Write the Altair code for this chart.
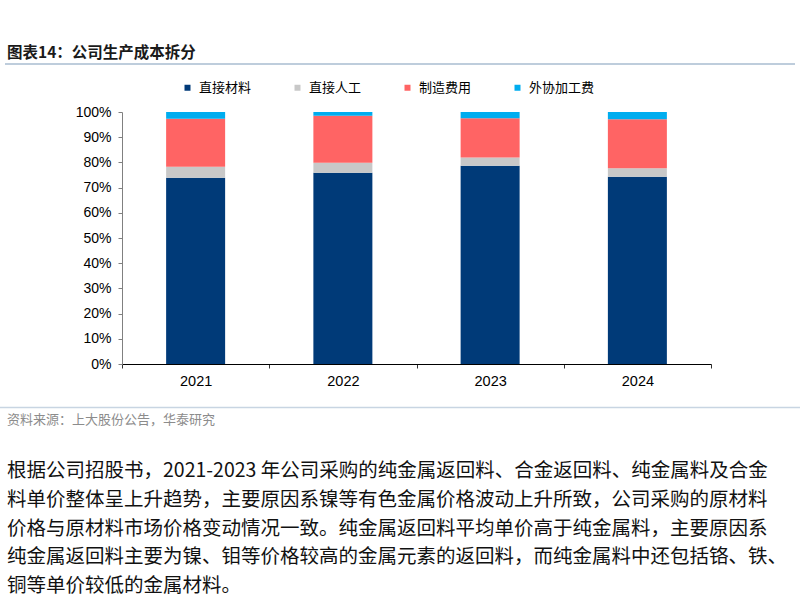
import altair as alt
import pandas as pd

# ---------------- data ----------------
years = ["2021", "2022", "2023", "2024"]
categories = ["直接材料", "直接人工", "制造费用", "外协加工费"]
direct_material = [73.9, 75.9, 78.7, 74.3]
direct_labor = [4.4, 4.0, 3.2, 3.4]
manufacturing = [19.0, 18.6, 15.6, 19.4]
outsourcing = [2.7, 1.5, 2.5, 2.9]
colors = ["#003a78", "#c8c8c8", "#ff6464", "#00adef"]
y_ticks = [0, 10, 20, 30, 40, 50, 60, 70, 80, 90, 100]

title_text = "图表14：公司生产成本拆分"
source_text = "资料来源：上大股份公告，华泰研究"
body_lines = [
    "根据公司招股书，2021-2023 年公司采购的纯金属返回料、合金返回料、纯金属料及合金",
    "料单价整体呈上升趋势，主要原因系镍等有色金属价格波动上升所致，公司采购的原材料",
    "价格与原材料市场价格变动情况一致。纯金属返回料平均单价高于纯金属料，主要原因系",
    "纯金属返回料主要为镍、钼等价格较高的金属元素的返回料，而纯金属料中还包括铬、铁、",
    "铜等单价较低的金属材料。",
]

series = [direct_material, direct_labor, manufacturing, outsourcing]
rows = []
for i, yr in enumerate(years):
    for j, cat in enumerate(categories):
        rows.append({"year": yr, "category": cat, "order": j, "value": series[j][i]})
df = pd.DataFrame(rows)

# ---------------- layout (plot area origin at page x=122, y=112) ----------------
X0, Y0 = 122, 112
W, H = 589, 252
CJK = "Noto Sans CJK SC"

bars = alt.Chart(df).mark_bar(size=59).encode(
    x=alt.X(
        "year:N", title=None, sort=years,
        scale=alt.Scale(paddingInner=0, paddingOuter=0),
        axis=alt.Axis(labelAngle=0, tickBand="extent", domainColor="#000000",
                      tickColor="#333333", tickSize=4, labelFontSize=14.5,
                      labelFont="Liberation Sans", labelColor="#000000",
                      labelPadding=6, grid=False),
    ),
    y=alt.Y(
        "value:Q", stack="zero", title=None,
        scale=alt.Scale(domain=[0, 100], nice=False),
        axis=alt.Axis(values=y_ticks, labelExpr="datum.value + '%'",
                      domainColor="#808080", tickColor="#808080", tickSize=4,
                      labelPadding=7, labelFontSize=14, labelFont="Liberation Sans",
                      labelColor="#000000", grid=False),
    ),
    color=alt.Color(
        "category:N", sort=categories,
        scale=alt.Scale(domain=categories, range=colors),
        legend=alt.Legend(title=None, orient="none", legendX=59, legendY=-31,
                          direction="horizontal", symbolType="square",
                          symbolSize=36, symbolStrokeWidth=0, labelFont=CJK,
                          labelFontSize=13, labelColor="#000000", labelOffset=5,
                          columnPadding=39, padding=0, offset=0),
    ),
    order=alt.Order("order:Q", sort="ascending"),
)


def text_layer(txt, px, py, size, color="#000000", weight="normal", font=CJK):
    return alt.Chart(pd.DataFrame({"t": [txt]})).mark_text(
        align="left", baseline="middle", fontSize=size, font=font,
        color=color, fontWeight=weight,
    ).encode(text="t:N", x=alt.value(px - X0), y=alt.value(py - Y0))


def rule_layer(px1, px2, py, color, width):
    return alt.Chart(pd.DataFrame({"a": [0]})).mark_rule(
        color=color, strokeWidth=width
    ).encode(x=alt.value(px1 - X0), x2=alt.value(px2 - X0), y=alt.value(py - Y0))


layers = [bars,
          text_layer(title_text, 7, 53, 15.5, color="#1a1a1a", weight="bold"),
          rule_layer(5, 795, 64, "#a9bdd1", 1.5),
          rule_layer(0, 800, 407.5, "#c8d5e2", 1.5),
          text_layer(source_text, 7, 420, 13, color="#8c8c8c")]

line_ys = [471, 500, 528.5, 557, 585.5]
for ln, ly in zip(body_lines, line_ys):
    layers.append(text_layer(ln, 7, ly, 19.5, color="#111111"))

chart = alt.layer(*layers).properties(
    width=W, height=H,
    padding={"left": X0, "top": Y0, "right": 800 - X0 - W, "bottom": 599 - Y0 - H},
    autosize=alt.AutoSizeParams(type="none"),
    background="#ffffff",
).configure_view(stroke=None)

chart.save("out.html", embed_options={"renderer": "svg", "actions": False})
